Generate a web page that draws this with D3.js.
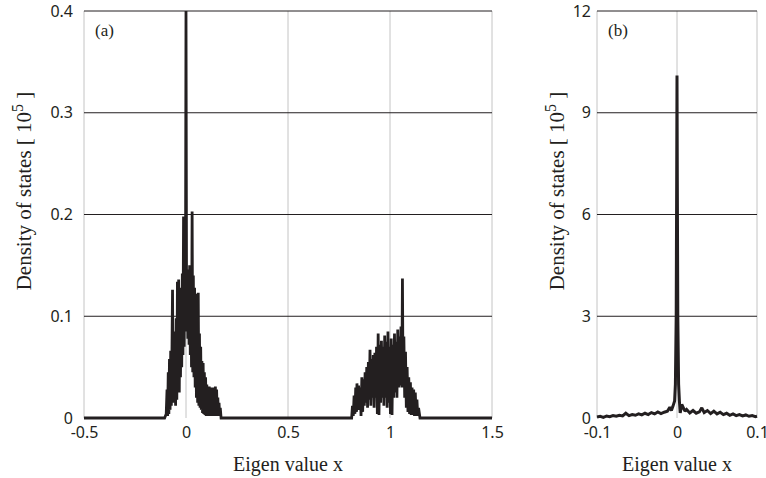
<!DOCTYPE html>
<html><head><meta charset="utf-8">
<script src="https://cdn.jsdelivr.net/npm/d3@7"></script>
<style>body{margin:0;background:#fff}svg{display:block}</style>
</head><body><svg id="c" width="766" height="478"></svg>
<script>
// ---- data ----
const ticksAX = [-0.5, 0, 0.5, 1, 1.5];
const ticksAY = [0, 0.1, 0.2, 0.3, 0.4];
const ticksBX = [-0.1, 0, 0.1];
const ticksBY = [0, 3, 6, 9, 12];

const edgeA = [[-0.5, 0], [1.5, 0]];
const clusterA0 = [[-0.105,0],[-0.097,0.004],[-0.093,0.028],[-0.090,0.002],[-0.087,0.045],[-0.084,0.004],[-0.081,0.058],[-0.078,0.008],[-0.075,0.066],[-0.072,0.012],[-0.069,0.062],[-0.066,0.126],[-0.063,0.015],[-0.060,0.085],[-0.057,0.02],[-0.054,0.082],[-0.051,0.012],[-0.048,0.098],[-0.045,0.018],[-0.042,0.134],[-0.039,0.03],[-0.036,0.136],[-0.033,0.025],[-0.030,0.128],[-0.027,0.04],[-0.024,0.112],[-0.021,0.05],[-0.018,0.142],[-0.015,0.062],[-0.012,0.198],[-0.009,0.07],[-0.006,0.19],[-0.003,0.085],[0.000,0.400],[0.003,0.085],[0.006,0.146],[0.009,0.078],[0.012,0.14],[0.015,0.072],[0.018,0.15],[0.021,0.062],[0.024,0.142],[0.027,0.05],[0.030,0.203],[0.033,0.045],[0.036,0.14],[0.039,0.04],[0.042,0.128],[0.045,0.03],[0.048,0.122],[0.051,0.02],[0.054,0.1],[0.057,0.015],[0.060,0.123],[0.063,0.012],[0.066,0.083],[0.069,0.01],[0.072,0.07],[0.075,0.008],[0.078,0.056],[0.081,0.005],[0.084,0.054],[0.087,0.004],[0.090,0.045],[0.093,0.003],[0.096,0.04],[0.099,0.002],[0.102,0.033],[0.105,0.002],[0.108,0.03],[0.111,0.002],[0.114,0.031],[0.117,0.002],[0.120,0.03],[0.123,0.002],[0.126,0.028],[0.129,0.002],[0.132,0.03],[0.135,0.002],[0.138,0.03],[0.141,0.002],[0.144,0.031],[0.147,0.002],[0.150,0.028],[0.153,0.002],[0.156,0.02],[0.159,0.002],[0.162,0.015],[0.165,0.002],[0.168,0.01],[0.172,0]];
const clusterA1 = [[0.812,0],[0.816,0.012],[0.820,0.002],[0.824,0.022],[0.828,0.004],[0.832,0.03],[0.836,0.006],[0.838,0.034],[0.842,0.01],[0.846,0.032],[0.850,0.008],[0.854,0.03],[0.858,0.002],[0.862,0.04],[0.866,0.006],[0.870,0.038],[0.874,0.012],[0.878,0.045],[0.882,0.015],[0.886,0.05],[0.890,0.01],[0.894,0.055],[0.898,0.018],[0.902,0.067],[0.906,0.012],[0.910,0.058],[0.914,0.02],[0.918,0.062],[0.922,0.01],[0.926,0.064],[0.930,0.02],[0.934,0.07],[0.938,0.004],[0.942,0.083],[0.946,0.003],[0.950,0.072],[0.954,0.015],[0.958,0.076],[0.962,0.02],[0.966,0.07],[0.970,0.012],[0.974,0.081],[0.978,0.02],[0.982,0.075],[0.986,0.01],[0.990,0.085],[0.994,0.015],[0.998,0.07],[1.002,0.004],[1.006,0.078],[1.010,0.003],[1.014,0.072],[1.018,0.02],[1.022,0.083],[1.026,0.025],[1.030,0.075],[1.034,0.02],[1.038,0.087],[1.042,0.03],[1.046,0.08],[1.050,0.032],[1.054,0.09],[1.058,0.03],[1.061,0.137],[1.064,0.03],[1.068,0.08],[1.072,0.02],[1.076,0.065],[1.080,0.01],[1.084,0.05],[1.088,0.006],[1.092,0.04],[1.096,0.004],[1.100,0.035],[1.104,0.003],[1.108,0.03],[1.112,0.003],[1.116,0.028],[1.120,0.002],[1.124,0.025],[1.128,0.002],[1.132,0.018],[1.136,0.002],[1.140,0.01],[1.147,0]];
const seriesB = [[-0.100,0.03],[-0.096,0.05],[-0.092,0.02],[-0.088,0.06],[-0.084,0.04],[-0.080,0.07],[-0.076,0.05],[-0.072,0.08],[-0.068,0.06],[-0.064,0.14],[-0.060,0.07],[-0.056,0.1],[-0.052,0.08],[-0.048,0.12],[-0.044,0.09],[-0.040,0.14],[-0.036,0.1],[-0.032,0.16],[-0.028,0.12],[-0.024,0.18],[-0.020,0.13],[-0.016,0.17],[-0.012,0.2],[-0.009,0.32],[-0.007,0.22],[-0.005,0.35],[-0.003,0.5],[-0.002,1.0],[-0.001,3.0],[-0.0004,7.0],[0,10.1],[0.0004,7.0],[0.001,3.0],[0.002,1.0],[0.003,0.5],[0.004,0.15],[0.006,0.4],[0.008,0.3],[0.010,0.2],[0.012,0.25],[0.016,0.15],[0.020,0.22],[0.024,0.14],[0.028,0.18],[0.031,0.3],[0.034,0.16],[0.038,0.22],[0.042,0.13],[0.046,0.2],[0.050,0.12],[0.054,0.17],[0.058,0.1],[0.062,0.14],[0.066,0.08],[0.070,0.12],[0.074,0.07],[0.078,0.1],[0.082,0.06],[0.086,0.09],[0.090,0.05],[0.094,0.07],[0.098,0.04],[0.100,0.05]];

const seriesA = [edgeA[0], ...clusterA0, ...clusterA1, edgeA[1]];

// ---- drawing ----
const svg = d3.select("#c");
const INK = "#231f20", GREY = "#c4c4c4";
const SANS = "'Noto Sans', 'Liberation Sans', sans-serif";
const SERIF = "'Liberation Serif', 'DejaVu Serif', serif";

function panel(o) {
  const x = d3.scaleLinear(o.xd, [o.x0, o.x1]);
  const y = d3.scaleLinear(o.yd, [418, 11]);
  const g = svg.append("g");
  g.selectAll(".vg").data(o.xt).join("line")
    .attr("x1", d => x(d)).attr("x2", d => x(d)).attr("y1", y(o.yd[1])).attr("y2", y(0))
    .attr("stroke", GREY).attr("stroke-width", 1);
  g.selectAll(".hg").data(o.yt.filter(d => d > 0)).join("line")
    .attr("x1", x(o.xd[0])).attr("x2", x(o.xd[1])).attr("y1", d => y(d)).attr("y2", d => y(d))
    .attr("stroke", INK).attr("stroke-width", 1);
  g.append("path").datum(o.data)
    .attr("d", d3.line().x(d => x(d[0])).y(d => y(d[1])))
    .attr("fill", "none").attr("stroke", INK).attr("stroke-width", o.sw).attr("stroke-linejoin", "miter").attr("stroke-miterlimit", 1.5);
  const ay = g.append("g").attr("transform", `translate(${o.x0},0)`)
    .call(d3.axisLeft(y).tickValues(o.yt).tickSize(0).tickPadding(o.ypad).tickFormat(d => String(d)));
  const ax = g.append("g").attr("transform", `translate(0,418)`)
    .call(d3.axisBottom(x).tickValues(o.xt).tickSize(0).tickPadding(9).tickFormat(d => String(d)));
  [ay, ax].forEach(a => {
    a.select(".domain").remove();
    a.selectAll("text").attr("font-family", SANS).attr("font-size", 16).attr("fill", INK);
  });
  g.append("text").attr("x", o.x0 + 11).attr("y", 36).text(o.label)
    .attr("font-family", SERIF).attr("font-size", 17).attr("fill", INK);
  g.append("text").attr("x", (o.x0 + o.x1) / 2).attr("y", 471).attr("text-anchor", "middle")
    .attr("font-family", SERIF).attr("font-size", 20).attr("fill", INK).text("Eigen value x");
  const t = g.append("text").attr("transform", `translate(${o.ty},191) rotate(-90)`)
    .attr("text-anchor", "middle").attr("font-family", SERIF).attr("font-size", 21).attr("fill", INK);
  t.append("tspan").text("Density of states [ 10");
  t.append("tspan").attr("dy", -8).attr("font-size", 16).text("5");
  t.append("tspan").attr("dy", 8).text(" ]");
}

panel({xd: [-0.5, 1.5], yd: [0, 0.4], x0: 84, x1: 492, xt: ticksAX, yt: ticksAY, data: seriesA, sw: 2.8,
  ypad: 11, label: "(a)", ty: 31});
panel({xd: [-0.1, 0.1], yd: [0, 12], x0: 597, x1: 757, xt: ticksBX, yt: ticksBY, data: seriesB, sw: 3,
  ypad: 6, label: "(b)", ty: 564});
</script></body></html>
